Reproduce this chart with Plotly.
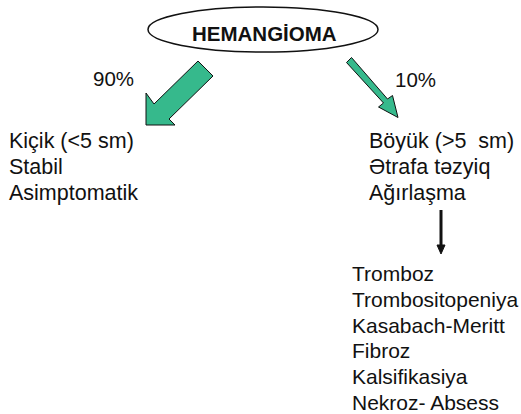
import plotly.graph_objects as go

# ---- content ----
title = "HEMANGİOMA"
pct_labels = ["90%", "10%"]
left_items = ["Kiçik (<5 sm)", "Stabil", "Asimptomatik"]
right_items = ["Böyük (>5\u00a0 sm)", "Ətrafa təzyiq", "Ağırlaşma"]
complications = ["Tromboz", "Trombositopeniya", "Kasabach-Meritt", "Fibroz",
                 "Kalsifikasiya", "Nekroz- Absess"]

W, H = 521, 414
FONT = "Liberation Sans, Arial, sans-serif"
TXT = "#111111"
GREEN = "#36B98C"

fig = go.Figure()


def path(pts):
    return "M " + " L ".join(f"{x},{y}" for x, y in pts) + " Z"


shapes = []
# ellipse
shapes.append(dict(type="circle", xref="x", yref="y", x0=148, x1=378, y0=7, y1=52,
                   line=dict(color="#111111", width=1.5), fillcolor="white"))
# big left arrow
big = [(198, 61), (213, 76), (169, 119), (175, 125), (146, 125), (146, 93), (154, 104)]
shapes.append(dict(type="path", path=path(big), fillcolor=GREEN,
                   line=dict(color="#111111", width=1)))
# thin right arrow
thin = [(346.5, 62.5), (351.5, 57.5), (387.5, 99), (392.5, 95.5), (398, 117.5),
        (378.5, 107), (383.5, 103)]
shapes.append(dict(type="path", path=path(thin), fillcolor=GREEN,
                   line=dict(color="#111111", width=1)))
# small vertical arrow
shapes.append(dict(type="line", x0=441, x1=441, y0=210, y1=247,
                   line=dict(color="#111111", width=3)))
shapes.append(dict(type="path", path=path([(437, 245), (445, 245), (441, 254)]),
                   fillcolor="#111111", line=dict(color="#111111", width=1)))

ann = []
ann.append(dict(x=264, y=33, text=f"<b>{title}</b>", showarrow=False,
                xanchor="center", yanchor="middle",
                font=dict(family=FONT, size=20.5, color=TXT)))
for t, (x, y) in zip(pct_labels, [(113.5, 78.5), (415.5, 79.5)]):
    ann.append(dict(x=x, y=y, text=t, showarrow=False, xanchor="center",
                    yanchor="middle", font=dict(family=FONT, size=20.5, color=TXT)))

row_y = [140.5, 167, 193]
for items, x0 in [(left_items, 7), (right_items, 367)]:
    for t, y in zip(items, row_y):
        ann.append(dict(x=x0, y=y, text=t, showarrow=False, xanchor="left",
                        yanchor="middle", font=dict(family=FONT, size=21.5, color=TXT)))

comp_y0, comp_dy = 273.5, 25.8
for i, t in enumerate(complications):
    ann.append(dict(x=350, y=comp_y0 + i * comp_dy, text=t, showarrow=False,
                    xanchor="left", yanchor="middle",
                    font=dict(family=FONT, size=21, color=TXT)))

fig.update_layout(
    width=W, height=H, margin=dict(l=0, r=0, t=0, b=0),
    paper_bgcolor="white", plot_bgcolor="white",
    xaxis=dict(range=[0, W], visible=False, fixedrange=True),
    yaxis=dict(range=[H, 0], visible=False, fixedrange=True),
    shapes=shapes, annotations=ann, showlegend=False,
)
fig.write_html("out.html", config={"displayModeBar": False, "staticPlot": True},
               post_script="document.body.style.margin='0';"
                           "document.body.style.overflow='hidden';")
